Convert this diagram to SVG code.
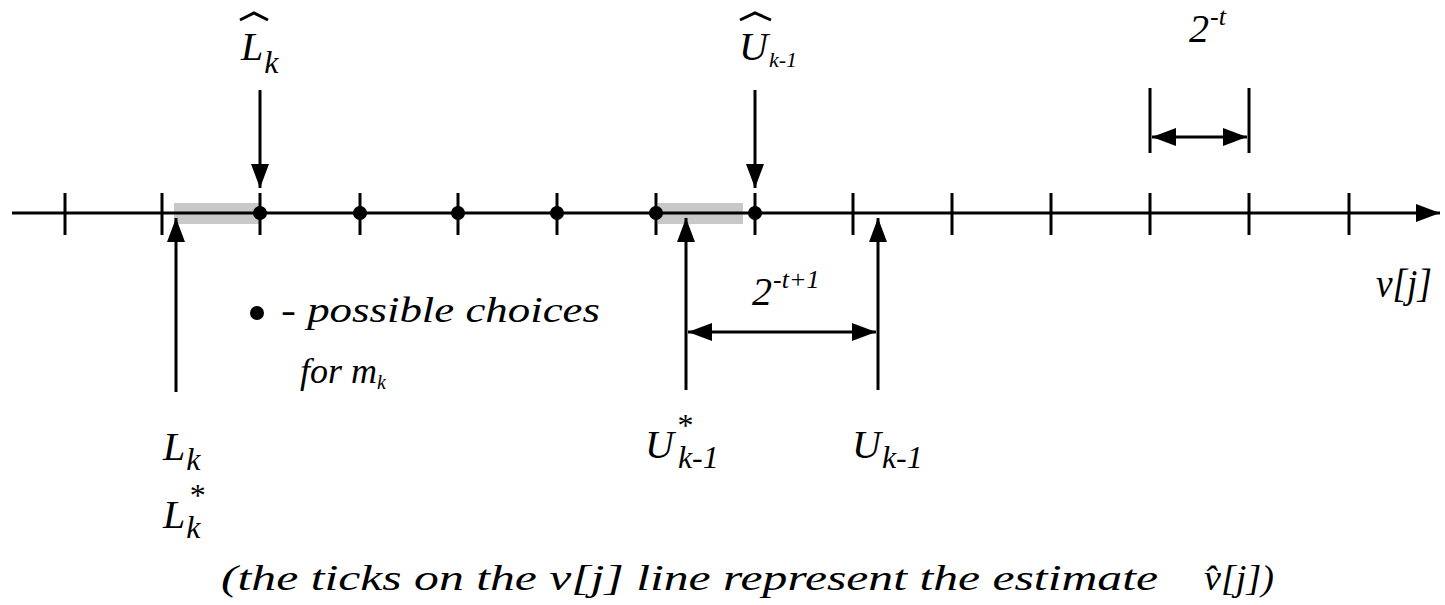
<svg xmlns="http://www.w3.org/2000/svg" width="1445" height="605" viewBox="0 0 1445 605">
<style>
.ln{stroke:#000;stroke-width:3;fill:none}
text{font-family:"Liberation Serif","Times New Roman",serif;font-style:italic;fill:#000}
.t{font-size:40px}
.m{font-size:36px}
.hat{stroke:#000;stroke-width:3;fill:none}
</style>
<defs>
<marker id="ah" viewBox="0 0 24 18" refX="24" refY="9" markerWidth="24" markerHeight="18" markerUnits="userSpaceOnUse" orient="auto-start-reverse"><path d="M0,0 L24,9 L0,18 Z" fill="#000"/></marker>
</defs>
<rect width="1445" height="605" fill="#fff"/>
<g id="highlights">
<rect x="174" y="203" width="86" height="21" fill="#c8c8c8"/>
<rect x="658" y="203" width="85" height="21" fill="#c8c8c8"/>
</g>
<g id="axis">
<line class="ln" x1="12" y1="213" x2="1440" y2="213" marker-end="url(#ah)"/>
<g class="ln">
<line x1="65" y1="193" x2="65" y2="235"/>
<line x1="162" y1="193" x2="162" y2="235"/>
<line x1="260" y1="193" x2="260" y2="235"/>
<line x1="360" y1="193" x2="360" y2="235"/>
<line x1="458" y1="193" x2="458" y2="235"/>
<line x1="557" y1="193" x2="557" y2="235"/>
<line x1="656" y1="193" x2="656" y2="235"/>
<line x1="755" y1="193" x2="755" y2="235"/>
<line x1="853" y1="193" x2="853" y2="235"/>
<line x1="952" y1="193" x2="952" y2="235"/>
<line x1="1051" y1="193" x2="1051" y2="235"/>
<line x1="1150" y1="193" x2="1150" y2="235"/>
<line x1="1249" y1="193" x2="1249" y2="235"/>
<line x1="1349" y1="193" x2="1349" y2="235"/>
</g>
<g fill="#000">
<circle cx="260" cy="213" r="7"/>
<circle cx="360" cy="213" r="7"/>
<circle cx="458" cy="213" r="7"/>
<circle cx="557" cy="213" r="7"/>
<circle cx="656" cy="213" r="7"/>
<circle cx="755" cy="213" r="7"/>
</g>
<text class="t" x="1376" y="297" textLength="56" lengthAdjust="spacingAndGlyphs">v[j]</text>
</g>
<g id="connectors">
<line class="ln" x1="260" y1="90" x2="260" y2="188" marker-end="url(#ah)"/>
<line class="ln" x1="755" y1="90" x2="755" y2="188" marker-end="url(#ah)"/>
<line class="ln" x1="176" y1="392" x2="176" y2="218" marker-end="url(#ah)"/>
<line class="ln" x1="686" y1="390" x2="686" y2="218" marker-end="url(#ah)"/>
<line class="ln" x1="878" y1="390" x2="878" y2="218" marker-end="url(#ah)"/>
<line class="ln" x1="688" y1="332" x2="876" y2="332" marker-start="url(#ah)" marker-end="url(#ah)"/>
<line class="ln" x1="1150" y1="88" x2="1150" y2="153"/>
<line class="ln" x1="1249" y1="88" x2="1249" y2="153"/>
<line class="ln" x1="1152" y1="137" x2="1247" y2="137" marker-start="url(#ah)" marker-end="url(#ah)"/>
</g>
<g id="label-Lhat">
<path class="hat" d="M240,20 L254,13 L268,20"/>
<text class="t" x="241" y="60">L<tspan dx="1" dy="13" font-size="32">k</tspan></text>
</g>
<g id="label-Uhat">
<path class="hat" d="M740,20 L755,13 L771,20"/>
<text class="t" x="739" y="60">U<tspan dx="1" dy="7" font-size="22">k-1</tspan></text>
</g>
<g id="label-2t">
<text class="t" x="1189" y="42">2<tspan dx="1" dy="-17" font-size="26">-t</tspan></text>
</g>
<g id="label-2t1">
<text class="t" x="752" y="305">2<tspan dx="1" dy="-17" font-size="26">-t+1</tspan></text>
</g>
<g id="legend">
<circle cx="257" cy="313" r="7" fill="#000"/>
<text class="m" x="281" y="322" textLength="319" lengthAdjust="spacingAndGlyphs">- possible choices</text>
<text class="m" x="300" y="383">for m<tspan font-size="20" dy="6">k</tspan></text>
</g>
<g id="label-Lk">
<text class="t" x="163" y="460">L<tspan dx="1" dy="10" font-size="32">k</tspan></text>
</g>
<g id="label-Lstar">
<text class="t" x="163" y="528">L<tspan dx="3" dy="-22" font-size="32">*</tspan><tspan dx="-18" dy="32" font-size="32">k</tspan></text>
</g>
<g id="label-Ustar">
<text class="t" x="645" y="458">U<tspan dx="2" dy="-22" font-size="32">*</tspan><tspan dx="-14" dy="32" font-size="32">k-1</tspan></text>
</g>
<g id="label-U">
<text class="t" x="852" y="458">U<tspan dx="1" dy="10" font-size="32">k-1</tspan></text>
</g>
<g id="note">
<text class="m" x="221" y="590" textLength="937" lengthAdjust="spacingAndGlyphs">(the ticks on the v[j] line represent the estimate</text>
<text class="m" x="1204" y="590" textLength="70" lengthAdjust="spacingAndGlyphs">v̂[j])</text>
</g>
</svg>
